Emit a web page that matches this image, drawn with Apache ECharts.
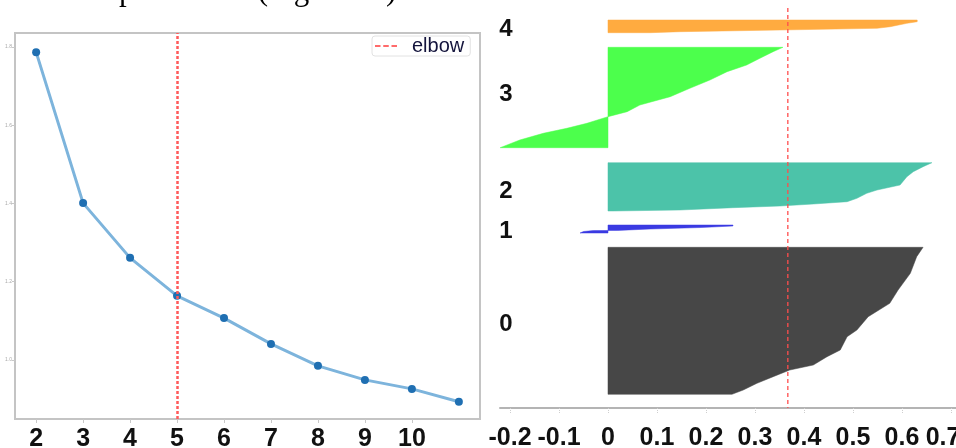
<!DOCTYPE html>
<html>
<head>
<meta charset="utf-8">
<script src="https://cdn.jsdelivr.net/npm/echarts@6/dist/echarts.min.js"></script>
<style>
  html, body { margin: 0; padding: 0; background: #fff; }
  #chart { width: 956px; height: 448px; }
</style>
</head>
<body>
<div id="chart"></div>
<script>
// elbow panel
const elbowK = [2, 3, 4, 5, 6, 7, 8, 9, 10, 11];
const inertia = [1.787, 1.401, 1.261, 1.164, 1.107, 1.041, 0.985, 0.949, 0.926, 0.893];
const elbowAt = 5;
const elbowXTicks = [2, 3, 4, 5, 6, 7, 8, 9, 10];
const elbowYTicks = [1.0, 1.2, 1.4, 1.6, 1.8];

// silhouette panel: [row, silhouette value], bottom row first
const silTicks = [-0.2, -0.1, 0, 0.1, 0.2, 0.3, 0.4, 0.5, 0.6, 0.7];
const silAvg = 0.367;
const clusterNames = ["0", "1", "2", "3", "4"];
const clusterLabelRows = [84, 177, 217, 314, 379];

const cluster0 = [
  [13.7, 0.253], [18, 0.276], [24.7, 0.304], [31.3, 0.337], [38, 0.371],
  [43, 0.419], [51.3, 0.447], [58, 0.474], [71.3, 0.488], [78, 0.508],
  [91.3, 0.531], [104.7, 0.575], [118, 0.592], [134.7, 0.617], [151.3, 0.63],
  [160.7, 0.643],
];
const cluster1 = [
  [175, -0.057], [176.5, -0.05], [177.4, -0.03], [177.6, 0.02], [179, 0.086],
  [180.5, 0.19], [182, 0.255], [183, 0.255],
];
const cluster2 = [
  [197, 0.01], [198, 0.147], [200.3, 0.255], [202, 0.351], [204, 0.419],
  [206.3, 0.488], [209.7, 0.508], [214.7, 0.528], [218, 0.549], [223, 0.596],
  [231.3, 0.61], [236.3, 0.623], [241.3, 0.643], [245.3, 0.661],
];
const cluster3 = [
  [260.3, -0.22], [268, -0.18], [274.7, -0.132], [279.7, -0.084], [284.7, -0.043],
  [291.3, 0], [296.3, 0.039], [303, 0.065], [311.3, 0.127], [319.7, 0.167],
  [328, 0.208], [336.3, 0.243], [343, 0.283], [349.7, 0.31], [356.3, 0.337],
  [360.7, 0.357],
];
const cluster4 = [
  [375.3, 0.086], [376.3, 0.147], [378, 0.351], [379.7, 0.549], [381.3, 0.576],
  [384.7, 0.61], [386.3, 0.631], [388, 0.631],
];

const TICK_FONT = "'Liberation Sans', Arial, sans-serif";
const TICK_TEXT = { fontSize: 25, fontWeight: "bold", fontFamily: TICK_FONT, color: "#111" };

function silhouetteSeries(points, color) {
  return {
    type: "custom",
    xAxisIndex: 1,
    yAxisIndex: 1,
    silent: true,
    data: points.map(([row, v]) => [v, row]),
    encode: { x: 0, y: 1 },
    renderItem: function (params, api) {
      if (params.dataIndex !== 0) return null;
      let first = points[0];
      let last = points[points.length - 1];
      let pts = [api.coord([0, first[0]])]
        .concat(points.map(([row, v]) => api.coord([v, row])))
        .concat([api.coord([0, last[0]])]);
      return {
        type: "polygon",
        shape: { points: pts },
        style: { fill: color, stroke: color, lineWidth: 0.5 },
      };
    },
  };
}

let myChart = echarts.init(document.getElementById("chart"));

let option = {
  animation: false,
  backgroundColor: "#fff",
  graphic: [
    {
      type: "text",
      x: 404,
      y: 7,
      style: {
        text: "linha vertical pontilhada (Figura 4a).",
        font: "31px 'Liberation Serif', 'Times New Roman', serif",
        fill: "#000",
        align: "right",
        verticalAlign: "bottom",
        textAlign: "right",
        textVerticalAlign: "bottom",
      },
    },
  ],
  legend: {
    data: [
      {
        name: "elbow",
        icon: "path://M0,0h6v2h-6z M9,0h6v2h-6z M18,0h6v2h-6z",
      },
    ],
    left: 372,
    top: 36,
    itemWidth: 22,
    itemHeight: 3,
    itemGap: 6,
    padding: [0, 6, 0, 3],
    borderColor: "#e2e2e2",
    borderWidth: 1,
    borderRadius: 3,
    textStyle: {
      fontSize: 20,
      color: "#14143c",
      fontFamily: "'Liberation Sans', Arial, sans-serif",
      padding: [0, 0, 0, 10],
    },
  },
  grid: [
    {
      left: 15, top: 33, width: 465, height: 386,
      outerBoundsMode: "none",
      containLabel: false,
      show: true, borderColor: "#c4c4c4", borderWidth: 2,
      backgroundColor: "#fff",
    },
    {
      left: 500, top: 8, width: 456, height: 400,
      outerBoundsMode: "none",
      containLabel: false,
    },
  ],
  xAxis: [
    {
      gridIndex: 0,
      type: "value",
      min: 1.55,
      max: 11.45,
      axisLine: { show: false },
      splitLine: { show: false },
      axisTick: {
        customValues: elbowXTicks,
        length: 4,
        lineStyle: { color: "#c8c8c8" },
      },
      axisLabel: {
        ...TICK_TEXT,
        customValues: elbowXTicks,
        margin: 8,
      },
    },
    {
      gridIndex: 1,
      type: "value",
      min: -0.2204,
      max: 0.7102,
      axisLine: { show: true, onZero: false, lineStyle: { color: "#b4b4b4", width: 2 } },
      splitLine: { show: false },
      axisTick: {
        customValues: silTicks,
        length: 5,
        lineStyle: { color: "#cfcfcf", type: "dotted" },
      },
      axisLabel: {
        ...TICK_TEXT,
        customValues: silTicks,
        margin: 18,
        showMinLabel: true,
        showMaxLabel: true,
        hideOverlap: false,
        formatter: (v) => {
          let text = `${Math.round(v * 10) / 10}`;
          // last label sits against the right edge
          return v === silTicks[silTicks.length - 1] ? `{last|${text}}` : text;
        },
        rich: {
          last: { ...TICK_TEXT, padding: [0, 16, 0, 0] },
        },
      },
    },
  ],
  yAxis: [
    {
      gridIndex: 0,
      type: "value",
      min: 0.849,
      max: 1.836,
      axisLine: { show: false },
      splitLine: { show: false },
      axisTick: {
        customValues: elbowYTicks,
        length: 3,
        lineStyle: { color: "#c8c8c8" },
      },
      axisLabel: {
        customValues: elbowYTicks,
        margin: 3,
        fontSize: 5,
        color: "#aaa",
        formatter: (v) => v.toFixed(1),
      },
    },
    {
      gridIndex: 1,
      type: "value",
      min: 0,
      max: 400,
      axisLine: { show: false },
      splitLine: { show: false },
      axisTick: { show: false },
      axisLabel: {
        customValues: clusterLabelRows,
        margin: -6,
        align: "center",
        fontSize: 24,
        fontWeight: "bold",
        fontFamily: "'Liberation Sans', Arial, sans-serif",
        color: "#111",
        formatter: (v) => clusterNames[clusterLabelRows.indexOf(v)],
      },
    },
  ],
  series: [
    {
      name: "inertia",
      type: "line",
      xAxisIndex: 0,
      yAxisIndex: 0,
      data: elbowK.map((k, i) => [k, inertia[i]]),
      symbol: "circle",
      symbolSize: 8,
      itemStyle: { color: "#1f6fb2" },
      lineStyle: { color: "#7db4dc", width: 3 },
      z: 3,
    },
    {
      name: "elbow",
      type: "line",
      xAxisIndex: 0,
      yAxisIndex: 0,
      data: [],
      symbol: "none",
      itemStyle: { color: "#ff6b6b" },
      lineStyle: { color: "#ff6b6b", type: [3, 2], width: 2.5 },
      markLine: {
        silent: true,
        symbol: "none",
        label: { show: false },
        lineStyle: { color: "#ff5a5a", type: [3, 2], width: 2.5 },
        data: [{ xAxis: elbowAt }],
      },
    },
    silhouetteSeries(cluster0, "#474747"),
    silhouetteSeries(cluster1, "#3a3ae2"),
    silhouetteSeries(cluster2, "#4cc3a9"),
    silhouetteSeries(cluster3, "#4cff4c"),
    silhouetteSeries(cluster4, "#ffab40"),
    {
      // average silhouette, vertical dashed line across the panel
      name: "avg",
      type: "custom",
      xAxisIndex: 1,
      yAxisIndex: 1,
      silent: true,
      z: 5,
      data: [[silAvg]],
      encode: { x: 0 },
      renderItem: function (params, api) {
        let top = api.coord([api.value(0), 400]);
        let bottom = api.coord([api.value(0), 0]);
        return {
          type: "line",
          shape: { x1: top[0], y1: top[1], x2: bottom[0], y2: bottom[1] },
          style: { stroke: "#ff4d4d", lineWidth: 1.3, lineDash: [4, 3] },
        };
      },
    },
  ],
};

option && myChart.setOption(option);
</script>
</body>
</html>
